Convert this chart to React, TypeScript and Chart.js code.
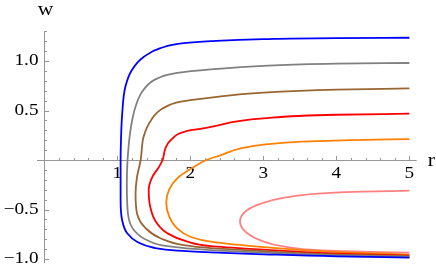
import React, { useEffect, useRef } from "react";
import { Chart, registerables } from "chart.js";

Chart.register(...registerables);

// Curve data: each curve traced from its upper-right end, around its leftmost point, to its lower-right end.
const blueR = [5, 4, 3, 2.28, 1.91, 1.59, 1.36, 1.2, 1.11, 1.067, 1.05, 1.045, 1.045, 1.067, 1.136, 1.27, 1.5, 1.82, 2.28, 3, 4, 5];
const blueW = [1.235, 1.232, 1.22, 1.2, 1.18, 1.13, 1.04, 0.91, 0.74, 0.47, 0.2, 0, -0.4, -0.61, -0.74, -0.825, -0.886, -0.916, -0.933, -0.952, -0.973, -0.985];

const grayR = [5, 4, 3, 2.28, 1.82, 1.55, 1.36, 1.25, 1.18, 1.14, 1.13, 1.145, 1.23, 1.41, 1.685, 2.28, 3, 4, 5];
const grayW = [0.98, 0.973, 0.95, 0.915, 0.88, 0.825, 0.71, 0.54, 0.3, 0, -0.235, -0.54, -0.71, -0.81, -0.87, -0.91, -0.935, -0.963, -0.978];

const brownR = [5, 4, 3, 2.28, 1.87, 1.62, 1.46, 1.36, 1.32, 1.27, 1.25, 1.27, 1.39, 1.59, 1.91, 2.28, 3, 4, 5];
const brownW = [0.724, 0.71, 0.68, 0.63, 0.59, 0.52, 0.4, 0.235, 0, -0.17, -0.34, -0.54, -0.69, -0.79, -0.86, -0.89, -0.92, -0.955, -0.972];

const redR = [5, 4, 3, 2.28, 2.14, 1.96, 1.73, 1.66, 1.62, 1.57, 1.48, 1.43, 1.45, 1.525, 1.685, 1.96, 2.28, 3, 4, 5];
const redW = [0.468, 0.457, 0.42, 0.335, 0.315, 0.295, 0.2, 0.12, 0, -0.07, -0.17, -0.3, -0.47, -0.62, -0.74, -0.825, -0.87, -0.905, -0.945, -0.965];

const orangeR = [5, 4.2, 3.52, 3.06, 2.69, 2.42, 2.22, 2.05, 1.82, 1.71, 1.67, 1.71, 1.82, 2.0, 2.28, 3, 4, 5];
const orangeW = [0.212, 0.2, 0.185, 0.16, 0.118, 0.05, 0, -0.07, -0.185, -0.3, -0.43, -0.57, -0.69, -0.775, -0.825, -0.88, -0.93, -0.955];

const pinkR = [5, 4.34, 3.75, 3.29, 2.97, 2.78, 2.68, 2.78, 2.97, 3.29, 3.75, 4.34, 5];
const pinkW = [-0.31, -0.32, -0.34, -0.38, -0.44, -0.505, -0.62, -0.74, -0.815, -0.875, -0.91, -0.925, -0.936];

const xMajorTicks = [1, 2, 3, 4, 5];
const xTickLabels = ["1", "2", "3", "4", "5"];
const yMajorTicks = [-1, -0.5, 0.5, 1];
const yTickLabels = ["\u22121.0", "\u22120.5", "0.5", "1.0"];

const toPts = (r: number[], w: number[]) => r.map((v, i) => ({ x: v, y: w[i] }));

const AXIS_COLOR = "rgb(150,150,150)";
const FONT = "16px 'Liberation Serif', 'Times New Roman', serif";
const LABEL_FONT = "18px 'Liberation Serif', 'Times New Roman', serif";
const SX = 1.2;

function drawText(ctx: CanvasRenderingContext2D, text: string, x: number, y: number, align: CanvasTextAlign, baseline: CanvasTextBaseline, font = FONT) {
  ctx.save();
  ctx.translate(x, y);
  ctx.scale(SX, 1);
  ctx.textAlign = align;
  ctx.textBaseline = baseline;
  ctx.fillStyle = "#000";
  ctx.font = font;
  ctx.fillText(text, 0, 0);
  ctx.restore();
}

const axesPlugin = {
  id: "mmaAxes",
  beforeDatasetsDraw(chart: any) {
    const ctx: CanvasRenderingContext2D = chart.ctx;
    const xs = chart.scales.x;
    const ys = chart.scales.y;
    const area = chart.chartArea;
    const x0 = Math.round(xs.getPixelForValue(0)) + 0.5;
    const y0 = Math.round(ys.getPixelForValue(0)) + 0.5;
    ctx.save();
    ctx.strokeStyle = AXIS_COLOR;
    ctx.lineWidth = 1;
    ctx.beginPath();
    ctx.moveTo(area.left, y0);
    ctx.lineTo(area.right, y0);
    ctx.moveTo(x0, area.top);
    ctx.lineTo(x0, area.bottom);
    for (let i = 1; i <= 25; i++) {
      const v = i * 0.2;
      const major = i % 5 === 0;
      const px = Math.round(xs.getPixelForValue(v)) + 0.5;
      ctx.moveTo(px, y0);
      ctx.lineTo(px, y0 - (major ? 4.5 : 2.5));
    }
    for (let i = -10; i <= 13; i++) {
      if (i === 0) continue;
      const v = i * 0.1;
      const major = i % 5 === 0;
      const py = Math.round(ys.getPixelForValue(v)) + 0.5;
      ctx.moveTo(x0, py);
      ctx.lineTo(x0 + (major ? 4.5 : 2.5), py);
    }
    ctx.stroke();
    ctx.restore();

    xMajorTicks.forEach((v, i) => {
      drawText(ctx, xTickLabels[i], xs.getPixelForValue(v), y0 + 13, "center", "middle");
    });
    yMajorTicks.forEach((v, i) => {
      drawText(ctx, yTickLabels[i], x0 - 6, ys.getPixelForValue(v), "right", "middle");
    });
    drawText(ctx, "w", x0 + 1, 15, "center", "alphabetic", LABEL_FONT);
    drawText(ctx, "r", area.right + 11, y0 + 5, "left", "alphabetic", LABEL_FONT);
  },
};

const series = [
  { r: blueR, w: blueW, color: "#0000ff" },
  { r: grayR, w: grayW, color: "#808080" },
  { r: brownR, w: brownW, color: "#996633" },
  { r: redR, w: redW, color: "#ff0000" },
  { r: orangeR, w: orangeW, color: "#ff8000" },
  { r: pinkR, w: pinkW, color: "#ff8080" },
];

export default function App() {
  const ref = useRef<HTMLCanvasElement>(null);
  useEffect(() => {
    if (!ref.current) return;
    const chart = new Chart(ref.current, {
      type: "line",
      data: {
        datasets: series.map((s) => ({
          data: toPts(s.r, s.w),
          borderColor: s.color,
          backgroundColor: s.color,
          borderWidth: 1.8,
          pointRadius: 0,
          cubicInterpolationMode: "monotone" as const,
          fill: false,
          clip: false as any,
        })),
      },
      options: {
        animation: false,
        responsive: false,
        maintainAspectRatio: false,
        indexAxis: "y",
        parsing: { xAxisKey: "x", yAxisKey: "y" },
        layout: { padding: { left: 37, right: 19.3, top: 31.3, bottom: 6 } },
        plugins: { legend: { display: false }, tooltip: { enabled: false } },
        events: [],
        scales: {
          x: { type: "linear", min: -0.1, max: 5.1, display: false },
          y: { type: "linear", min: -1.04, max: 1.3, display: false },
        },
      } as any,
      plugins: [axesPlugin],
    });
    return () => chart.destroy();
  }, []);
  return (
    <div style={{ position: "fixed", left: 0, top: 0, width: 436, height: 269, background: "#fff" }}>
      <canvas ref={ref} width={436} height={269} style={{ display: "block", width: 436, height: 269 }} />
    </div>
  );
}
